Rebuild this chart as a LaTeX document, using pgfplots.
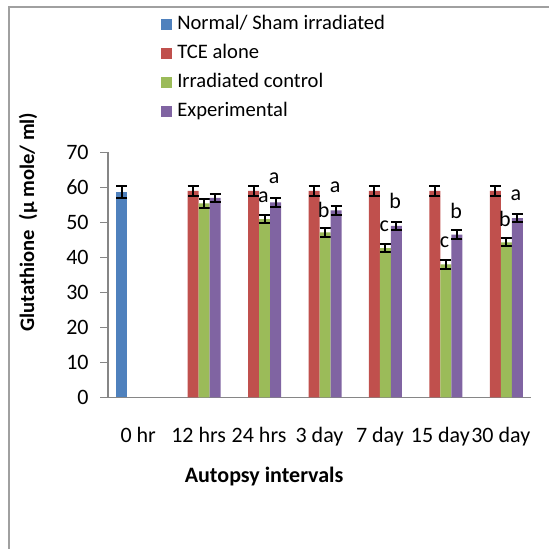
\documentclass[border=0pt]{standalone}
\usepackage{fontspec}
\setmainfont{Carlito}
\usepackage{pgfplots}
\pgfplotsset{compat=1.18}
\definecolor{cblue}{HTML}{4F81BD}
\definecolor{cred}{HTML}{C0504D}
\definecolor{cgreen}{HTML}{9BBB59}
\definecolor{cpurple}{HTML}{8064A2}
\definecolor{axgray}{HTML}{868686}
\definecolor{framegray}{HTML}{A0A0A0}
\begin{document}
\begin{tikzpicture}
\useasboundingbox (0,0) rectangle (274.5pt,-274pt);
\draw[framegray, line width=1pt] (4.5pt,-3.5pt) rectangle (300pt,-300pt);
\begin{axis}[
  at={(54pt,-198.65pt)}, anchor=south west,
  scale only axis, width=211.5pt, height=122.5pt,
  xmin=-0.5, xmax=6.5, ymin=0, ymax=70,
  ybar=0pt, bar width=5.5pt,
  axis x line*=bottom, axis y line*=left,
  axis line style={axgray, line width=0.8pt},
  xtick={0,...,6},
  xticklabels={0 hr,12 hrs,24 hrs,3 day,7 day,15 day,30 day},
  xtick style={draw=none},
  ytick={0,10,...,70},
  ytick style={axgray, line width=0.8pt},
  tick align=outside, major tick length=4pt,
  /pgf/number format/assume math mode=true,
  tick label style={font=\fontsize{11}{13}\selectfont},
  xticklabel style={anchor=base, yshift=-18.5pt},
  yticklabel style={anchor=east, inner sep=0pt, xshift=-5.5pt},
  xlabel={\textbf{Autopsy intervals}},
  xlabel style={at={(axis description cs:0.369,-0.325)}, anchor=center, font=\fontsize{11}{13}\selectfont},
  ylabel={\textbf{Glutathione\ \ (µ mole/ ml)}},
  ylabel style={at={(axis description cs:-0.189,0.715)}, anchor=center, font=\fontsize{10.3}{12}\selectfont},
  legend style={at={(axis description cs:0.125,1.561)}, anchor=north west, draw=none, fill=none,
    inner sep=0pt, font=\fontsize{10.3}{12}\selectfont, row sep=5.5pt,
    nodes={inner sep=0pt, text height=7pt, text depth=2pt, outer sep=0pt}},
  legend cell align=left,
  legend image code/.code={\fill[#1] (0pt,-2.75pt) rectangle (5.5pt,2.75pt); \path (8pt,0pt);},
  error bars/error bar style={draw=black, line width=1pt},
  error bars/error mark options={rotate=90, mark size=2.75pt, draw=black, line width=1pt},
]
\addplot[fill=cblue, draw=none, error bars/.cd, y dir=both, y explicit] coordinates {(0,58.6) +- (0,1.75)};
\addlegendentry{Normal/ Sham irradiated}
\addplot[fill=cred, draw=none, error bars/.cd, y dir=both, y explicit] coordinates {
 (1,59.0) +- (0,1.4) (2,59.0) +- (0,1.4) (3,59.0) +- (0,1.4) (4,59.0) +- (0,1.4) (5,59.0) +- (0,1.4) (6,59.0) +- (0,1.4)};
\addlegendentry{TCE alone}
\addplot[fill=cgreen, draw=none, error bars/.cd, y dir=both, y explicit] coordinates {
 (1,55.4) +- (0,1.2) (2,50.9) +- (0,1.2) (3,47.1) +- (0,1.2) (4,42.6) +- (0,1.2) (5,38.0) +- (0,1.2) (6,44.3) +- (0,1.2)};
\addlegendentry{Irradiated control}
\addplot[fill=cpurple, draw=none, error bars/.cd, y dir=both, y explicit] coordinates {
 (1,57.0) +- (0,1.2) (2,55.7) +- (0,1.2) (3,53.4) +- (0,1.2) (4,49.0) +- (0,1.2) (5,46.5) +- (0,1.2) (6,51.2) +- (0,1.2)};
\addlegendentry{Experimental}
\begin{scope}[every node/.style={font=\fontsize{11}{13}\selectfont, inner sep=0pt}]
\node at (axis cs:2.07,57.2) {a};
\node at (axis cs:2.25,62.7) {a};
\node at (axis cs:3.07,53.5) {b};
\node at (axis cs:3.26,60.1) {a};
\node at (axis cs:4.07,49.0) {c};
\node at (axis cs:4.25,56.1) {b};
\node at (axis cs:5.07,44.4) {c};
\node at (axis cs:5.26,53.2) {b};
\node at (axis cs:6.07,50.9) {b};
\node at (axis cs:6.25,57.8) {a};
\end{scope}
\end{axis}
\end{tikzpicture}
\end{document}
